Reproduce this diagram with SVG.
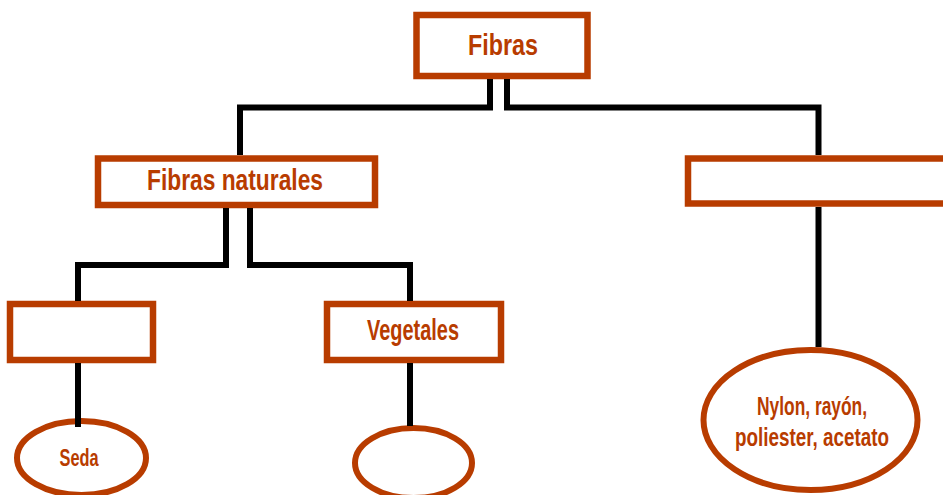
<svg xmlns="http://www.w3.org/2000/svg" width="943" height="495" viewBox="0 0 943 495">
<defs>
<style>
.box{fill:#fff;stroke:#B83C00;stroke-width:6.5}
.ell{fill:#fff;stroke:#B83C00;stroke-width:6}
.lbl{font-family:"Liberation Sans","DejaVu Sans Condensed",Arial,sans-serif;font-weight:bold;fill:#B83C00;text-anchor:middle}
.con{fill:none;stroke:#000;stroke-width:6;stroke-linejoin:miter;stroke-linecap:butt}
</style>
</defs>
<rect width="943" height="495" fill="#fff"/>
<g id="node-fibras">
<rect class="box" x="416.5" y="15" width="171" height="61"/>
<text class="lbl" x="503" y="55" font-size="30" textLength="70" lengthAdjust="spacingAndGlyphs">Fibras</text>
</g>
<g id="node-naturales">
<rect class="box" x="98" y="158.5" width="277" height="46.5"/>
<text class="lbl" x="235" y="190" font-size="29" textLength="176" lengthAdjust="spacingAndGlyphs">Fibras naturales</text>
</g>
<g id="node-sinteticas">
<rect class="box" x="688" y="158.5" width="270" height="45"/>
</g>
<g id="node-animales">
<rect class="box" x="10" y="304" width="143" height="56"/>
</g>
<g id="node-vegetales">
<rect class="box" x="327" y="304" width="174" height="56"/>
<text class="lbl" x="413" y="340" font-size="29" textLength="92" lengthAdjust="spacingAndGlyphs">Vegetales</text>
</g>
<g id="node-seda">
<ellipse class="ell" cx="81.5" cy="458" rx="64.5" ry="37"/>
<text class="lbl" x="79" y="466" font-size="24" textLength="39" lengthAdjust="spacingAndGlyphs">Seda</text>
</g>
<g id="node-vegetal-ejemplo">
<ellipse class="ell" cx="413.5" cy="463" rx="58.5" ry="35"/>
</g>
<g id="node-nylon">
<ellipse class="ell" cx="810.5" cy="420" rx="107" ry="70"/>
<text class="lbl" x="812" y="415" font-size="25" textLength="110" lengthAdjust="spacingAndGlyphs">Nylon, rayón,</text>
<text class="lbl" x="812" y="446" font-size="25" textLength="154" lengthAdjust="spacingAndGlyphs">poliester, acetato</text>
</g>
<g id="connectors">
<path class="con" d="M490,79 V107.5 H240 V155"/>
<path class="con" d="M507,79 V107.5 H818.5 V155"/>
<path class="con" d="M226,208 V265 H78 V301"/>
<path class="con" d="M250,208 V265 H410 V301"/>
<path class="con" d="M78,363 V427"/>
<path class="con" d="M410,363 V426"/>
<path class="con" d="M818.5,207 V347"/>
</g>
</svg>
